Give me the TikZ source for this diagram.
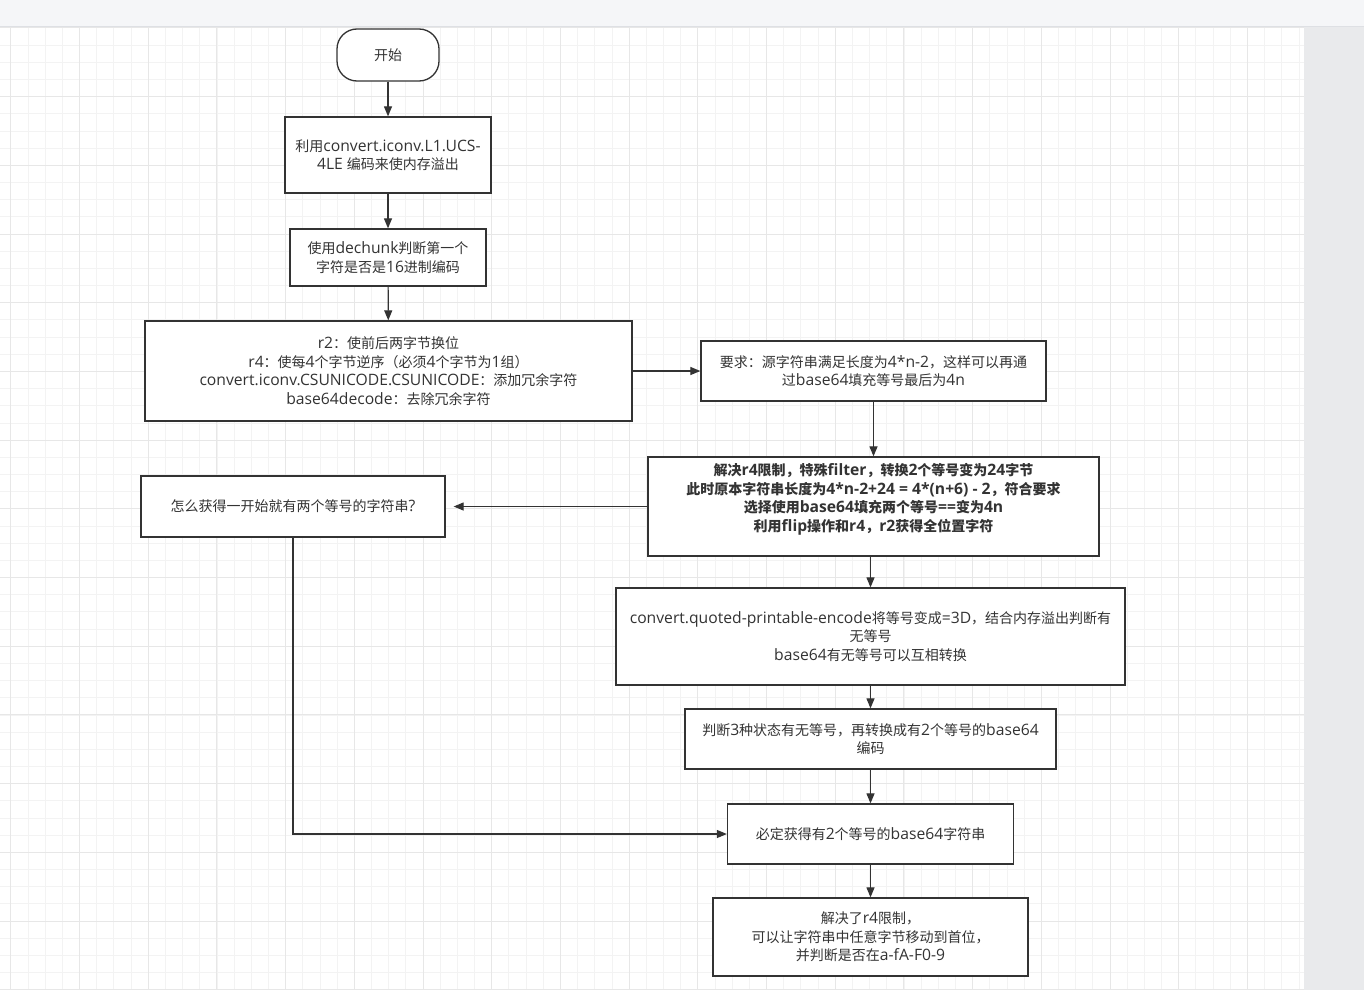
\documentclass[tikz,border=0pt]{standalone}
\usepackage{fontspec}
\setmainfont{Open Sans}[Scale=1.12]
\newfontfamily\latinfont{Open Sans}[Scale=1.12]
\newfontfamily\cjkfont{Noto Sans CJK SC}
% switch to the CJK family for ideographs and full-width punctuation
\newXeTeXintercharclass\cjkclass
\newcount\cjkcode
\newcommand{\setcjkrange}[2]{%
  \cjkcode=#1
  \loop \XeTeXcharclass\cjkcode=\cjkclass \advance\cjkcode by 1
  \ifnum\cjkcode<#2 \repeat}
\setcjkrange{"3000}{"3040}
\setcjkrange{"4E00}{"A000}
\setcjkrange{"FF00}{"FFF0}
\XeTeXinterchartokenstate=1
\XeTeXinterchartoks 0 \cjkclass = {\cjkfont}
\XeTeXinterchartoks 4095 \cjkclass = {\cjkfont}
\XeTeXinterchartoks \cjkclass 0 = {\latinfont}
\XeTeXinterchartoks 4095 0 = {\latinfont}
\usetikzlibrary{arrows.meta}
\definecolor{linegray}{HTML}{333333}
\definecolor{textgray}{HTML}{333333}
\definecolor{gridminor}{HTML}{F3F3F3}
\definecolor{gridmajor}{HTML}{E7E7E7}
\definecolor{barfill}{HTML}{F5F6F8}
\definecolor{barline}{HTML}{DEE0E4}
\definecolor{sidefill}{HTML}{E9EAEC}

\begin{document}
\begin{tikzpicture}[x=1pt,y=-1pt,
  box/.style={draw=linegray, line width=1.3pt, fill=white, align=center,
    text=textgray, inner sep=0pt, font=\fontsize{14}{18.5}\selectfont},
  flow/.style={draw=linegray, line width=1.2pt, -{Triangle[length=10pt,width=8pt]}}]
\newcommand{\gs}{17.175}

\useasboundingbox (0,0) rectangle (1364,990);

% Canvas with its grid, the top bar and the side strip
\fill[white] (0,27) rectangle (1304,990);
\foreach \i in {0,...,75}
  \draw[gridminor, line width=0.8pt] (10.8+\gs*\i,27) -- (10.8+\gs*\i,990);
\foreach \j in {0,...,56}
  \draw[gridminor, line width=0.8pt] (0,27.9+\gs*\j) -- (1304,27.9+\gs*\j);
\foreach \i in {0,4,...,72}
  \draw[gridmajor, line width=0.9pt] (10.8+\gs*\i,27) -- (10.8+\gs*\i,990);
\foreach \j in {0,4,...,56}
  \draw[gridmajor, line width=0.9pt] (0,27.9+\gs*\j) -- (1304,27.9+\gs*\j);
\fill[barfill] (0,0) rectangle (1364,26);
\draw[barline, line width=1pt] (0,26.5) -- (1364,26.5);
\fill[sidefill] (1304,27) rectangle (1364,990);

% Left column
\node[box, rounded corners=20pt, minimum width=102pt, minimum height=52pt] (start) at (388,55) {开始};
\node[box, minimum width=206pt, minimum height=76pt] (iconv) at (388,155) {利用convert.iconv.L1.UCS-\\4LE 编码来使内存溢出};
\node[box, minimum width=196pt, minimum height=57pt] (dechunk) at (388,257.5) {使用dechunk判断第一个\\字符是否是16进制编码};
\node[box, minimum width=487pt, minimum height=100pt] (filters) at (388.5,371) {r2：使前后两字节换位\\r4：使每4个字节逆序（必须4个字节为1组）\\convert.iconv.CSUNICODE.CSUNICODE：添加冗余字符\\base64decode：去除冗余字符};
\node[box, minimum width=304pt, minimum height=61pt] (ask) at (293,506.5) {怎么获得一开始就有两个等号的字符串?};

% Right column
\node[box, minimum width=345pt, minimum height=60pt] (need) at (873.5,371) {要求：源字符串满足长度为4*n-2，这样可以再通\\过base64填充等号最后为4n};
\node[box, minimum width=451pt, minimum height=99pt, font=\fontsize{14}{18.5}\selectfont\bfseries] (fix) at (873.5,506.5) {解决r4限制，特殊filter，转换2个等号变为24字节\\此时原本字符串长度为4*n-2+24 = 4*(n+6) - 2，符合要求\\选择使用base64填充两个等号==变为4n\\利用flip操作和r4，r2获得全位置字符\\\mbox{}};
\node[box, minimum width=509pt, minimum height=97pt] (qp) at (870.5,636.5) {convert.quoted-printable-encode将等号变成=3D，结合内存溢出判断有\\无等号\\base64有无等号可以互相转换};
\node[box, minimum width=371pt, minimum height=60pt] (judge) at (870.5,739) {判断3种状态有无等号，再转换成有2个等号的base64\\编码};
\node[box, minimum width=286pt, minimum height=60pt] (twoeq) at (870.5,834) {必定获得有2个等号的base64字符串};
\node[box, minimum width=315pt, minimum height=78pt] (done) at (870.5,937) {解决了r4限制，\\可以让字符串中任意字节移动到首位，\\并判断是否在a-fA-F0-9};

% Connectors
\draw[flow] (start) -- (iconv);
\draw[flow] (iconv) -- (dechunk);
\draw[flow] (dechunk) -- (filters);
\draw[flow] (filters) -- (need);
\draw[flow] (need) -- (fix);
\draw[flow, shorten >=8pt] (fix) -- (ask);
\draw[flow] (qp.north |- fix.south) -- (qp.north);
\draw[flow] (qp) -- (judge);
\draw[flow] (judge) -- (twoeq);
\draw[flow] (twoeq) -- (done);
\draw[flow] (ask.south) |- (twoeq.west);

\end{tikzpicture}
\end{document}
